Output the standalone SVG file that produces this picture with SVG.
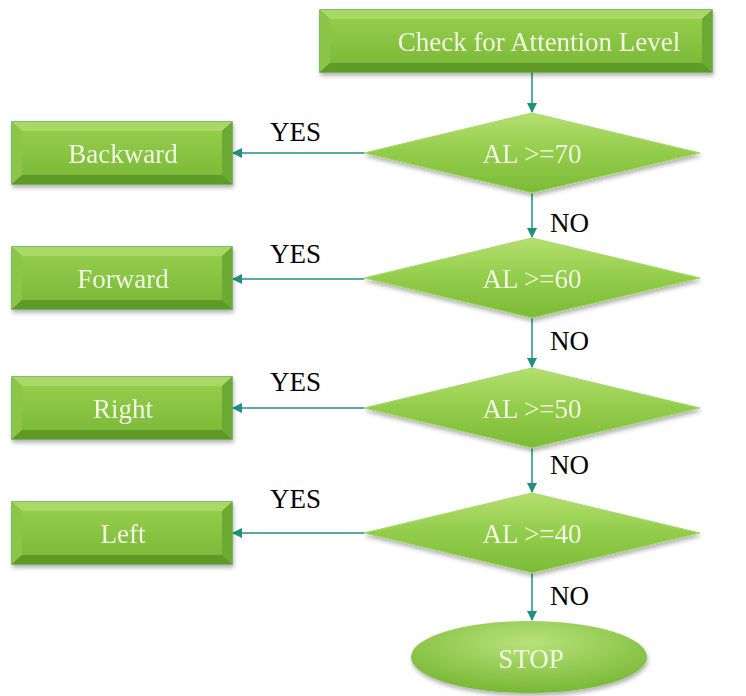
<svg xmlns="http://www.w3.org/2000/svg" width="746" height="696" viewBox="0 0 746 696">
<defs>
<linearGradient id="face" x1="0" y1="0" x2="0" y2="1">
<stop offset="0" stop-color="#94cc4c"/>
<stop offset="1" stop-color="#7dbb3a"/>
</linearGradient>
<linearGradient id="dia" x1="0" y1="0" x2="0" y2="1">
<stop offset="0" stop-color="#b4e070"/>
<stop offset="0.5" stop-color="#92cc4a"/>
<stop offset="1" stop-color="#7cbb38"/>
</linearGradient>
<radialGradient id="ell" cx="0.5" cy="0.3" r="0.7">
<stop offset="0" stop-color="#b8e27a"/>
<stop offset="1" stop-color="#78b836"/>
</radialGradient>
<filter id="sh" x="-10%" y="-10%" width="120%" height="130%">
<feDropShadow dx="1" dy="3" stdDeviation="2" flood-color="#000" flood-opacity="0.3"/>
</filter>
<marker id="arr" viewBox="0 0 10 10" refX="9" refY="5" markerWidth="7" markerHeight="7" orient="auto-start-reverse">
<path d="M0,0 L10,5 L0,10 z" fill="#1f9080"/>
</marker>
</defs>
<style>
text{font-family:'Liberation Serif','DejaVu Serif',serif}
.lbl{font-size:27px;fill:#f2f9e2;text-anchor:middle;dominant-baseline:central}
.yn{font-size:27px;fill:#000}
.con{stroke:#1f9080;stroke-width:1.5;fill:none;marker-end:url(#arr)}
.outer{fill:#7ab83a;stroke:#5aa850;stroke-width:1.5}
.bt{fill:#a9d866}
.bl{fill:#8cc64a}
.bb{fill:#5e9a28}
.br{fill:#6caa30}
.inner{fill:url(#face)}
</style>

<g id="connectors">
<line class="con" x1="532" y1="72" x2="532" y2="112"/>
<line class="con" x1="532" y1="193" x2="532" y2="237"/>
<line class="con" x1="532" y1="318" x2="532" y2="367"/>
<line class="con" x1="532" y1="448" x2="532" y2="492"/>
<line class="con" x1="532" y1="573" x2="532" y2="620"/>
<line class="con" x1="364" y1="153" x2="233" y2="153"/>
<line class="con" x1="364" y1="279" x2="233" y2="279"/>
<line class="con" x1="364" y1="408" x2="233" y2="408"/>
<line class="con" x1="364" y1="533" x2="233" y2="533"/>
<text class="yn" x="270" y="141">YES</text>
<text class="yn" x="270" y="263">YES</text>
<text class="yn" x="270" y="391">YES</text>
<text class="yn" x="270" y="508">YES</text>
<text class="yn" x="550" y="232">NO</text>
<text class="yn" x="550" y="350">NO</text>
<text class="yn" x="550" y="474">NO</text>
<text class="yn" x="550" y="605">NO</text>
</g>

<g id="start" filter="url(#sh)">
<rect class="outer" x="320" y="10" width="392" height="62"/>
<polygon class="bt" points="320,10 712,10 702,19 330,19"/>
<polygon class="bl" points="320,10 330,19 330,63 320,72"/>
<polygon class="bb" points="320,72 330,63 702,63 712,72"/>
<polygon class="br" points="712,10 712,72 702,63 702,19"/>
<rect class="inner" x="330" y="19" width="372" height="44"/>
<text class="lbl" x="539" y="42">Check for Attention Level</text>
</g>

<g id="backward" filter="url(#sh)">
<rect class="outer" x="12" y="122" width="220" height="62"/>
<polygon class="bt" points="12,122 232,122 222,131 22,131"/>
<polygon class="bl" points="12,122 22,131 22,175 12,184"/>
<polygon class="bb" points="12,184 22,175 222,175 232,184"/>
<polygon class="br" points="232,122 232,184 222,175 222,131"/>
<rect class="inner" x="22" y="131" width="200" height="44"/>
<text class="lbl" x="123" y="154">Backward</text>
</g>

<g id="forward" filter="url(#sh)">
<rect class="outer" x="12" y="247" width="220" height="62"/>
<polygon class="bt" points="12,247 232,247 222,256 22,256"/>
<polygon class="bl" points="12,247 22,256 22,300 12,309"/>
<polygon class="bb" points="12,309 22,300 222,300 232,309"/>
<polygon class="br" points="232,247 232,309 222,300 222,256"/>
<rect class="inner" x="22" y="256" width="200" height="44"/>
<text class="lbl" x="123" y="279">Forward</text>
</g>

<g id="right" filter="url(#sh)">
<rect class="outer" x="12" y="377" width="220" height="62"/>
<polygon class="bt" points="12,377 232,377 222,386 22,386"/>
<polygon class="bl" points="12,377 22,386 22,430 12,439"/>
<polygon class="bb" points="12,439 22,430 222,430 232,439"/>
<polygon class="br" points="232,377 232,439 222,430 222,386"/>
<rect class="inner" x="22" y="386" width="200" height="44"/>
<text class="lbl" x="123" y="409">Right</text>
</g>

<g id="left" filter="url(#sh)">
<rect class="outer" x="12" y="502" width="220" height="62"/>
<polygon class="bt" points="12,502 232,502 222,511 22,511"/>
<polygon class="bl" points="12,502 22,511 22,555 12,564"/>
<polygon class="bb" points="12,564 22,555 222,555 232,564"/>
<polygon class="br" points="232,502 232,564 222,555 222,511"/>
<rect class="inner" x="22" y="511" width="200" height="44"/>
<text class="lbl" x="123" y="534">Left</text>
</g>

<g id="d70" filter="url(#sh)">
<polygon fill="url(#dia)" stroke="#a6d86a" stroke-width="1" points="532,113 700,153 532,193 364,153"/>
<text class="lbl" x="532" y="154">AL &gt;=70</text>
</g>
<g id="d60" filter="url(#sh)">
<polygon fill="url(#dia)" stroke="#a6d86a" stroke-width="1" points="532,238 700,278 532,318 364,278"/>
<text class="lbl" x="532" y="279">AL &gt;=60</text>
</g>
<g id="d50" filter="url(#sh)">
<polygon fill="url(#dia)" stroke="#a6d86a" stroke-width="1" points="532,368 700,408 532,448 364,408"/>
<text class="lbl" x="532" y="409">AL &gt;=50</text>
</g>
<g id="d40" filter="url(#sh)">
<polygon fill="url(#dia)" stroke="#a6d86a" stroke-width="1" points="532,493 700,533 532,573 364,533"/>
<text class="lbl" x="532" y="534">AL &gt;=40</text>
</g>

<g id="stop" filter="url(#sh)">
<ellipse cx="529" cy="657" rx="118" ry="36" fill="url(#ell)"/>
<text class="lbl" x="531" y="659">STOP</text>
</g>
</svg>
